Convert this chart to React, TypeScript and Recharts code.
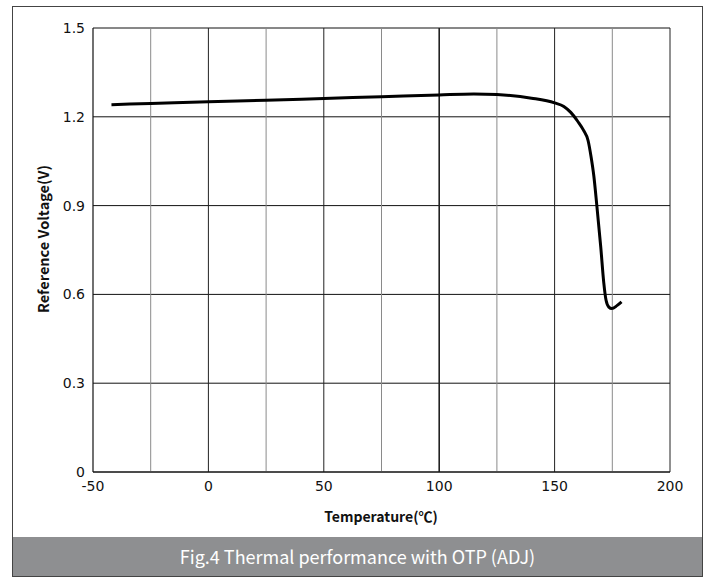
import { LineChart, Line, XAxis, YAxis, CartesianGrid, ReferenceLine } from 'recharts'

// temperature (°C) vs reference voltage (V)
const temps = [-42, -25, 0, 25, 50, 75, 100, 115, 125, 140, 150, 154, 157, 160, 162.5, 164.5, 165.8, 167, 168.3, 170, 171.3, 172.3, 173.5, 174.8, 177, 179]
const volts = [1.241, 1.245, 1.251, 1.256, 1.262, 1.268, 1.274, 1.277, 1.275, 1.263, 1.247, 1.235, 1.215, 1.185, 1.155, 1.12, 1.065, 1.0, 0.9, 0.76, 0.64, 0.58, 0.557, 0.552, 0.562, 0.575]

const xTicks = [-50, 0, 50, 100, 150, 200]
const yTicks = [0, 0.3, 0.6, 0.9, 1.2, 1.5]
const gridX = [-25, 0, 25, 50, 75, 100, 125, 150, 175, 200]

const data = temps.map((t, i) => ({ t, v: volts[i] }))

const tickStyle = { fontFamily: 'DejaVu Sans', fontSize: 14, fill: '#111' }
const titleFont = '"Noto Sans CJK SC", "Noto Sans", sans-serif'

export default function App() {
  return (
    <div style={{ position: 'fixed', left: 0, top: 0, width: 712, height: 580, background: '#fff' }}>
      <div
        style={{
          position: 'absolute', left: 12, top: 6, width: 691, height: 571,
          border: '1.5px solid #444', boxSizing: 'border-box',
        }}
      />
      <div
        style={{
          position: 'absolute', left: 13, top: 537, width: 689, height: 39,
          background: '#8e8f91', color: '#fff', fontFamily: titleFont,
          fontSize: 18, lineHeight: '39px', textAlign: 'center',
        }}
      >
        Fig.4 Thermal performance with OTP (ADJ)
      </div>
      <div style={{ position: 'absolute', left: 0, top: 0 }}>
        <LineChart width={712} height={580} data={data} margin={{ top: 28, right: 42, bottom: 78, left: 33 }}>
          <CartesianGrid vertical={false} stroke="#111" strokeWidth={1} />
          {gridX.map((x) => (
            <ReferenceLine
              key={x}
              x={x}
              stroke={x % 50 === 0 ? '#222' : '#8a8a8a'}
              strokeWidth={x === 100 ? 1.6 : 1}
            />
          ))}
          <XAxis
            type="number"
            dataKey="t"
            domain={[-50, 200]}
            ticks={xTicks}
            height={30}
            tickLine={false}
            tickSize={0}
            tickMargin={9}
            axisLine={{ stroke: '#111', strokeWidth: 1.2 }}
            tick={tickStyle}
            interval={0}
          />
          <YAxis
            type="number"
            domain={[0, 1.5]}
            ticks={yTicks}
            width={60}
            tickLine={false}
            tickSize={0}
            tickMargin={8}
            axisLine={{ stroke: '#111', strokeWidth: 1.2 }}
            tick={tickStyle}
            interval={0}
          />
          <Line
            type="monotone"
            dataKey="v"
            stroke="#000"
            strokeWidth={3}
            dot={false}
            isAnimationActive={false}
          />
        </LineChart>
      </div>
      <div
        style={{
          position: 'absolute', left: 281, top: 506, width: 200, textAlign: 'center',
          fontFamily: titleFont, fontWeight: 700, fontSize: 14, color: '#111',
        }}
      >
        Temperature(℃)
      </div>
      <div
        style={{
          position: 'absolute', left: 43, top: 239, width: 0, height: 0,
        }}
      >
        <div
          style={{
            position: 'absolute', left: -100, top: -10, width: 200, lineHeight: '20px',
            textAlign: 'center', transform: 'rotate(-90deg)',
            fontFamily: titleFont, fontWeight: 700, fontSize: 14.5, color: '#111',
          }}
        >
          Reference Voltage(V)
        </div>
      </div>
    </div>
  )
}
